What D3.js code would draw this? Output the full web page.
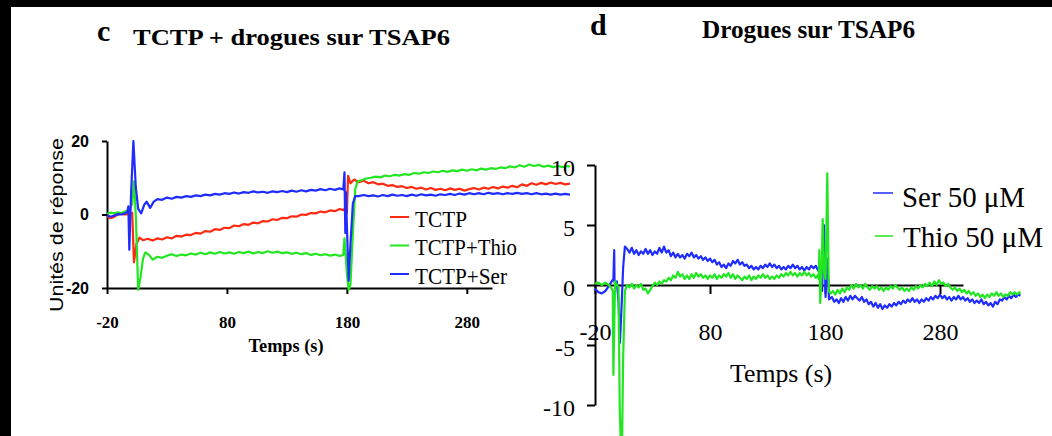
<!DOCTYPE html>
<html>
<head>
<meta charset="utf-8">
<script src="https://cdn.jsdelivr.net/npm/d3@7"></script>
<style>
body { margin: 0; background: #fff; }
svg { display: block; }
</style>
</head>
<body>
<svg id="fig" width="1052" height="436"></svg>
<script>
// values, [time (s), response units]
const xTicksC = [-20, 80, 180, 280];
const yTicksC = [-20, 0, 20];
const xTicksD = [-20, 80, 180, 280];
const yTicksD = [-10, -5, 0, 5, 10];
const namesC = ["TCTP", "TCTP+Thio", "TCTP+Ser"];
const namesD = ["Ser 50 μM", "Thio 50 μM"];

const tctp = [[-20,-0.3],[-18,-1.0],[-15,-0.8],[-12,-0.2],[-9,0.2],[-6,0.0],[-3,0.1],[-1,0.0],[1,0.5],[2.5,-13],[4.5,-8],[7,-6.3],
  [10,-7.0],[14,-6.6],[18,-7.1],[22,-6.5],[26,-6.8],[30,-6.2],[34,-6.5],[38,-5.8],[42,-6.0],[46,-5.5],[50,-5.6],[54,-5.0],[58,-5.2],
  [62,-4.5],[66,-4.7],[70,-4.0],[74,-4.2],[78,-3.6],[82,-3.7],[86,-3.0],[90,-3.2],[94,-2.6],[98,-2.8],[102,-2.2],[106,-2.4],[110,-1.8],
  [114,-1.9],[118,-1.3],[122,-1.5],[126,-0.9],[130,-1.0],[134,-0.5],[138,-0.6],[142,0.0],[146,-0.1],[150,0.4],[154,0.3],[158,0.8],
  [162,0.6],[166,1.1],[170,0.9],[174,1.5],[177,1.2],[179,1.8],[180,0.5],[181,10.5],[183,8.5],[186,9.5],[190,8.8],[194,9.2],[198,8.5],
  [202,8.8],[206,8.2],[210,8.4],[214,7.8],[218,8.0],[222,7.5],[226,7.7],[230,7.2],[234,7.5],[238,7.0],[242,7.3],[246,6.8],[250,7.2],
  [254,6.7],[258,7.0],[262,6.6],[266,7.1],[270,6.7],[274,7.0],[278,6.5],[282,6.9],[286,7.2],[290,6.8],[294,7.3],[298,7.0],[302,7.5],
  [306,7.1],[310,7.6],[314,7.3],[318,7.8],[322,7.4],[326,8.2],[330,7.8],[334,8.5],[338,8.1],[342,8.6],[346,8.2],[350,8.7],[354,8.3],
  [358,8.6],[362,8.2],[366,8.4]];

const tctpThio = [[-20,0.2],[-17,0.5],[-14,0.3],[-11,0.6],[-8,0.4],[-5,0.8],[-3,1.0],[-1,1.5],[1,3],[2.5,9],[4,0],[6,-20.5],[8,-17],
  [10,-12],[12,-10.3],[15,-11],[18,-12.3],[22,-11.5],[26,-11.8],[30,-11.2],[34,-10.8],[38,-11.3],[42,-10.9],[46,-11.1],[50,-10.6],
  [54,-10.9],[58,-10.4],[62,-10.8],[66,-10.3],[70,-10.7],[74,-10.2],[78,-10.6],[82,-10.3],[86,-10.7],[90,-10.2],[94,-10.5],[98,-10.1],
  [102,-10.6],[106,-10.2],[110,-10.5],[114,-10.0],[118,-10.4],[122,-10.1],[126,-10.5],[130,-10.3],[134,-10.7],[138,-10.4],[142,-10.8],
  [146,-10.5],[150,-11.0],[154,-10.7],[158,-11.1],[162,-10.8],[166,-11.2],[170,-10.9],[174,-11.3],[177,-11.0],[178,-6.5],[179,-11],
  [180,-16],[181.5,-20.5],[183,-19],[185,-5],[187,7],[189,9],[192,9.3],[196,9.8],[200,10.0],[204,10.3],[208,10.1],[212,10.6],[216,10.4],
  [220,10.8],[224,10.6],[228,11.0],[232,10.8],[236,11.3],[240,11.1],[244,11.5],[248,11.3],[252,11.7],[256,11.5],[260,11.9],[264,11.6],
  [268,12.0],[272,11.8],[276,12.2],[280,11.9],[284,12.3],[288,12.0],[292,12.5],[296,12.2],[300,12.6],[304,12.4],[308,12.8],[312,12.6],
  [316,13.1],[320,12.8],[324,13.4],[328,13.0],[332,13.6],[336,13.2],[340,13.5],[344,13.0],[348,13.3],[352,12.9],[356,13.2],[360,12.9],
  [364,13.2],[366,13.0]];

const tctpSer = [[-20,-0.2],[-17,-0.6],[-14,-0.3],[-11,0.1],[-8,0.0],[-5,0.3],[-3,0.8],[-2.2,2.2],[-1.4,-9.6],[0,5],[2,20],[4,7.5],
  [6,1.5],[8.5,0.3],[11,2.6],[13,3.5],[16,1.8],[19,3.5],[22,4.2],[26,4.0],[30,4.6],[34,4.3],[38,4.8],[42,4.6],[46,5.0],[50,4.8],[54,5.2],
  [58,5.0],[62,5.4],[66,5.2],[70,5.6],[74,5.4],[78,5.8],[82,5.6],[86,6.0],[90,5.7],[94,6.1],[98,5.9],[102,6.3],[106,6.0],[110,6.2],
  [114,5.9],[118,6.3],[122,6.1],[126,6.4],[130,6.1],[134,6.5],[138,6.2],[142,6.6],[146,6.3],[150,6.7],[154,6.5],[158,6.9],[162,6.6],
  [166,7.0],[170,6.7],[174,7.1],[177,6.8],[178,11.5],[178.7,-5],[179.3,6],[180,-3],[181.5,-18],[183,-8],[185,3],[187,5],[190,5.0],
  [194,5.3],[198,5.0],[202,5.2],[206,4.9],[210,5.3],[214,5.0],[218,5.4],[222,5.1],[226,5.3],[230,5.0],[234,5.4],[238,5.1],[242,5.5],
  [246,5.2],[250,5.4],[254,5.1],[258,5.5],[262,5.3],[266,5.6],[270,5.3],[274,5.7],[278,5.4],[282,5.8],[286,5.5],[290,5.8],[294,5.5],
  [298,5.9],[302,5.6],[306,5.8],[310,5.5],[314,5.8],[318,5.6],[322,5.9],[326,5.6],[330,5.8],[334,5.5],[338,5.8],[342,5.5],[346,5.7],
  [350,5.4],[354,5.7],[358,5.4],[362,5.6],[366,5.4]];

const ser50 = [[-20,-0.3],[-17,-0.6],[-14,-0.7],[-11,-0.5],[-8,-0.1],[-5.5,0.3],[-4,0.5],[-3.3,2.9],[-3,0.2],[-1,0.3],[0.5,-1.5],
  [1.7,-4.8],[3,-2],[4.5,1.5],[6,3.2],[8,3.0],[10,2.7],[12,3.1],[14,2.6],[16,2.9],[18,2.5],[20,2.8],[22,2.6],[24,3.0],[26,2.6],[28,2.9],
  [30,2.5],[32,2.8],[34,2.6],[36,3.1],[38,2.7],[40,3.2],[42,2.7],[44,2.9],[46,2.4],[48,2.7],[50,2.3],[52,2.6],[54,2.3],[56,2.5],[58,2.2],
  [60,2.6],[62,2.4],[64,2.7],[66,2.3],[68,2.5],[70,2.2],[72,2.4],[74,2.1],[76,2.3],[78,2.0],[80,2.2],[82,1.9],[84,2.1],[86,1.7],[88,1.9],
  [90,1.5],[92,1.7],[94,1.4],[96,1.8],[98,1.6],[100,2.0],[102,1.8],[104,2.1],[106,1.7],[108,1.9],[110,1.6],[112,1.7],[114,1.4],[116,1.6],
  [118,1.3],[120,1.5],[122,1.3],[124,1.6],[126,1.4],[128,1.7],[130,1.5],[132,1.8],[134,1.5],[136,1.7],[138,1.4],[140,1.6],[142,1.3],
  [144,1.5],[146,1.3],[148,1.6],[150,1.4],[152,1.7],[154,1.4],[156,1.6],[158,1.3],[160,1.5],[162,1.2],[164,1.5],[166,1.3],[168,1.6],
  [170,1.4],[172,1.6],[174,1.2],[176,1.0],[177.5,-0.5],[179,5.0],[180.5,-1.0],[182,2.2],[183.5,-1.2],[186,-1.0],[188,-1.4],[190,-1.2],
  [192,-1.5],[194,-1.1],[196,-1.4],[198,-1.0],[200,-1.3],[202,-0.9],[204,-1.2],[206,-0.9],[208,-1.1],[210,-1.3],[212,-1.0],[214,-1.4],
  [216,-1.2],[218,-1.6],[220,-1.4],[222,-1.8],[224,-1.5],[226,-1.9],[228,-1.6],[230,-2.0],[232,-1.7],[234,-1.9],[236,-1.6],[238,-1.8],
  [240,-1.5],[242,-1.7],[244,-1.4],[246,-1.6],[248,-1.3],[250,-1.5],[252,-1.2],[254,-1.4],[256,-1.1],[258,-1.4],[260,-1.2],[262,-1.5],
  [264,-1.2],[266,-1.4],[268,-1.1],[270,-1.3],[272,-1.0],[274,-1.2],[276,-0.9],[278,-1.1],[280,-0.8],[282,-1.1],[284,-0.9],[286,-1.2],
  [288,-1.0],[290,-1.3],[292,-1.0],[294,-1.2],[296,-0.9],[298,-1.2],[300,-1.0],[302,-1.3],[304,-1.1],[306,-1.4],[308,-1.2],[310,-1.5],
  [312,-1.3],[314,-1.5],[316,-1.2],[318,-1.6],[320,-1.4],[322,-1.7],[324,-1.5],[326,-1.8],[328,-1.4],[330,-1.6],[332,-1.2],[334,-1.3],
  [336,-1.0],[338,-1.2],[340,-0.9],[342,-1.1],[344,-0.8],[346,-1.0],[348,-0.8],[350,-0.9]];

const thio50 = [[-20,0.1],[-17,0.2],[-14,0.0],[-11,0.2],[-8,0.0],[-6,-0.2],[-4.5,-0.5],[-4,-7.5],[-3,-2],[-2.5,0.3],[-1,0.0],[0.5,-0.2],
  [1.5,-10.2],[2.5,-13.5],[3.5,-13.5],[4.5,-6],[6,-0.5],[8,0.0],[10,-0.2],[12,0.1],[14,-0.3],[16,0.0],[18,-0.2],[20,0.1],[22,-0.4],
  [24,-0.3],[26,-0.7],[28,-0.4],[30,-0.1],[32,0.2],[34,0.0],[36,0.3],[38,0.1],[40,0.4],[42,0.3],[44,0.6],[46,0.4],[48,0.8],[50,0.6],
  [52,1.1],[54,0.7],[56,0.9],[58,0.5],[60,0.8],[62,0.5],[64,0.9],[66,0.6],[68,1.0],[70,0.7],[72,0.9],[74,0.6],[76,0.8],[78,0.5],[80,0.8],
  [82,0.6],[84,0.9],[86,0.5],[88,0.8],[90,0.6],[92,0.9],[94,0.7],[96,1.0],[98,0.6],[100,0.9],[102,0.5],[104,0.8],[106,0.6],[108,0.4],
  [110,0.7],[112,0.5],[114,0.8],[116,0.4],[118,0.7],[120,0.5],[122,0.8],[124,0.6],[126,0.9],[128,0.6],[130,0.8],[132,0.5],[134,0.7],
  [136,0.5],[138,0.8],[140,0.6],[142,0.9],[144,0.7],[146,1.0],[148,0.8],[150,1.1],[152,0.8],[154,1.0],[156,0.7],[158,1.0],[160,0.8],
  [162,1.1],[164,0.8],[166,1.0],[168,0.7],[170,0.9],[172,0.6],[173.5,0.8],[174.5,0.5],[175.1,2.9],[175.8,-1.5],[177,0.8],[178,5.5],
  [179.2,1.0],[180.5,0.5],[182,9.3],[183.3,-0.5],[185,-0.7],[187,-0.5],[189,-0.8],[191,-0.4],[193,-0.7],[195,-0.3],[197,-0.6],[199,-0.2],
  [201,-0.4],[203,0.0],[205,-0.3],[207,0.1],[209,-0.2],[211,0.0],[213,-0.3],[215,0.1],[217,-0.2],[219,-0.4],[221,-0.1],[223,-0.3],
  [225,-0.1],[227,-0.4],[229,-0.2],[231,-0.5],[233,-0.2],[235,-0.4],[237,-0.1],[239,-0.3],[241,0.0],[243,-0.2],[245,-0.4],[247,-0.2],
  [249,-0.5],[251,-0.3],[253,-0.5],[255,-0.2],[257,-0.4],[259,-0.1],[261,-0.3],[263,0.0],[265,-0.2],[267,0.1],[269,-0.1],[271,0.2],
  [273,-0.1],[275,0.3],[277,0.0],[279,0.4],[281,0.1],[283,0.2],[285,-0.1],[287,0.1],[289,-0.2],[291,-0.4],[293,-0.2],[295,-0.5],
  [297,-0.3],[299,-0.6],[301,-0.4],[303,-0.7],[305,-0.5],[307,-0.8],[309,-0.6],[311,-0.9],[313,-0.7],[315,-1.0],[317,-0.8],[319,-1.1],
  [321,-0.8],[323,-1.0],[325,-0.7],[327,-0.9],[329,-0.6],[331,-0.9],[333,-0.7],[335,-1.0],[337,-0.8],[339,-0.9],[341,-0.6],[343,-0.8],
  [345,-0.6],[347,-0.8],[349,-0.6],[350,-0.7]];

const RED = "#ff2a10", GREEN = "#22e622", BLUE = "#1f2cff";
const SERIF = "'Liberation Serif', 'Times New Roman', serif";
const SANS = "'Liberation Sans', Arial, sans-serif";

const svg = d3.select("#fig");
svg.append("rect").attr("width", 1052).attr("height", 436).attr("fill", "#fff");

// text helper: size sets the height, len squeezes it to the scanned width
function txt(x, y, s, size, opts) {
  opts = opts || {};
  const t = svg.append("text")
    .attr("x", x).attr("y", y)
    .attr("font-family", opts.family || SERIF)
    .attr("font-size", size)
    .attr("font-weight", opts.bold ? "bold" : "normal")
    .attr("text-anchor", opts.anchor || "start")
    .attr("fill", "#000")
    .text(s);
  if (opts.len) t.attr("textLength", opts.len).attr("lengthAdjust", "spacingAndGlyphs");
  if (opts.rotate) t.attr("transform", "rotate(-90," + x + "," + y + ")");
  return t;
}

function styleAxis(g, size, family, bold) {
  g.select(".domain").attr("stroke", "#000").attr("stroke-width", 2);
  g.selectAll(".tick line").attr("stroke", "#000").attr("stroke-width", 2);
  g.selectAll(".tick text").attr("font-size", size).attr("font-family", family)
    .attr("font-weight", bold ? "bold" : "normal").attr("fill", "#000");
}

// ---------- panel c ----------
const xC = d3.scaleLinear().domain([-20, 301]).range([107, 492]);
const yC = d3.scaleLinear().domain([-20, 20]).range([288, 141]);

const axXC = svg.append("g").attr("transform", "translate(0," + yC(-20) + ")")
  .call(d3.axisBottom(xC).tickValues(xTicksC).tickFormat(d => String(d))
    .tickSize(6).tickSizeOuter(0).tickPadding(22));
styleAxis(axXC, 17, SERIF, true);

const axYC = svg.append("g").attr("transform", "translate(" + xC(-20) + ",0)")
  .call(d3.axisLeft(yC).tickValues(yTicksC).tickFormat(d => String(d))
    .tickSize(5).tickSizeOuter(0).tickPadding(13));
styleAxis(axYC, 16, SANS, true);

const lineC = d3.line().x(d => xC(d[0])).y(d => yC(d[1]));
[[tctp, RED], [tctpThio, GREEN], [tctpSer, BLUE]].forEach(([s, c]) => {
  svg.append("path").datum(s).attr("d", lineC)
    .attr("fill", "none").attr("stroke", c).attr("stroke-width", 2.2)
    .attr("stroke-linejoin", "round");
});

// legend c
[RED, GREEN, BLUE].forEach((c, i) => {
  const y = 217 + i * 28.5;
  svg.append("line").attr("x1", 390).attr("x2", 409).attr("y1", y).attr("y2", y)
    .attr("stroke", c).attr("stroke-width", 2);
});
txt(415, 227, namesC[0], 24, { len: 52 });
txt(415, 255, namesC[1], 24, { len: 102 });
txt(415, 284, namesC[2], 24, { len: 92 });

txt(286, 352, "Temps (s)", 18, { bold: true, anchor: "middle", len: 75 });
txt(63, 225, "Unités de réponse", 19, { family: SANS, anchor: "middle", len: 174, rotate: true });

txt(97, 41, "c", 30, { bold: true });
txt(133, 45, "TCTP + drogues sur TSAP6", 24, { bold: true, len: 317 });

// ---------- panel d ----------
const xD = d3.scaleLinear().domain([-20, 300]).range([595, 963]);
const yD = d3.scaleLinear().domain([-10, 10]).range([405, 165]);

const axXD = svg.append("g").attr("transform", "translate(0," + yD(0) + ")")
  .call(d3.axisBottom(xD).tickValues(xTicksD).tickFormat(d => String(d))
    .tickSize(9).tickSizeOuter(0).tickPadding(29));
styleAxis(axXD, 24, SERIF, false);

const axYD = svg.append("g").attr("transform", "translate(" + xD(-20) + ",0)")
  .call(d3.axisLeft(yD).tickValues(yTicksD).tickFormat(d => String(d))
    .tickSize(8).tickSizeOuter(0).tickPadding(12));
styleAxis(axYD, 24, SERIF, false);
axYD.selectAll(".tick text").attr("dy", "0.45em");

const lineD = d3.line().x(d => xD(d[0])).y(d => yD(d[1]));
[[ser50, BLUE], [thio50, GREEN]].forEach(([s, c]) => {
  svg.append("path").datum(s).attr("d", lineD)
    .attr("fill", "none").attr("stroke", c).attr("stroke-width", 2.2)
    .attr("stroke-linejoin", "round");
});

// legend d
svg.append("line").attr("x1", 873).attr("x2", 893).attr("y1", 193).attr("y2", 193)
  .attr("stroke", BLUE).attr("stroke-width", 1.5);
svg.append("line").attr("x1", 875).attr("x2", 893).attr("y1", 236).attr("y2", 236)
  .attr("stroke", GREEN).attr("stroke-width", 1.5);
txt(902, 207, namesD[0], 29, { len: 123 });
txt(903, 247, namesD[1], 29, { len: 140 });

txt(781, 382, "Temps (s)", 26, { anchor: "middle", len: 102 });

txt(590, 35, "d", 30, { bold: true });
txt(702, 38, "Drogues sur TSAP6", 26, { bold: true, len: 213 });

// black scan edges
svg.append("rect").attr("x", 0).attr("y", 0).attr("width", 1052).attr("height", 7).attr("fill", "#000");
svg.append("rect").attr("x", 0).attr("y", 0).attr("width", 11).attr("height", 436).attr("fill", "#000");
</script>
</body>
</html>
